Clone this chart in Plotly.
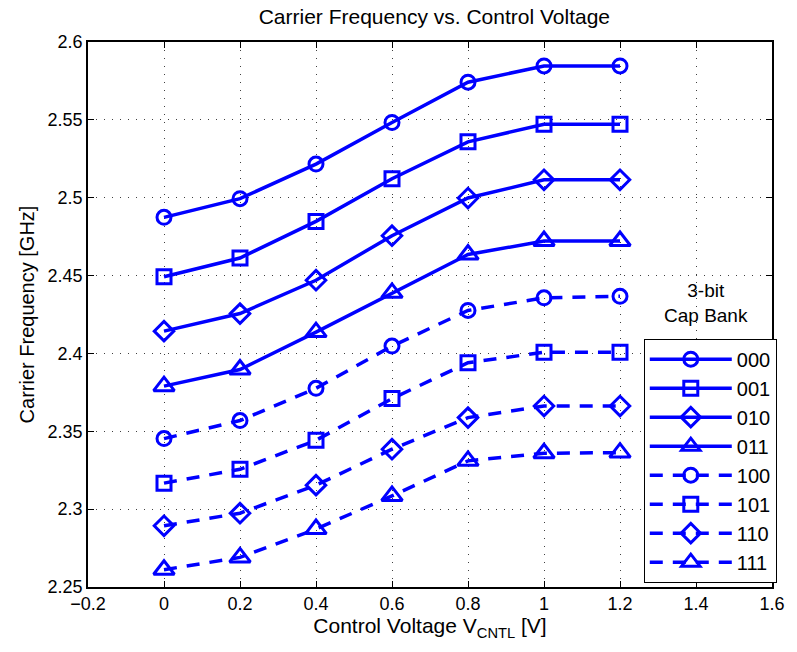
import plotly.graph_objects as go

x_volt = [0, 0.2, 0.4, 0.6, 0.8, 1.0, 1.2]

f_000 = [2.4874, 2.4994, 2.5216, 2.5483, 2.5742, 2.5846, 2.5846]
f_001 = [2.4492, 2.4613, 2.4848, 2.5122, 2.5359, 2.5472, 2.5472]
f_010 = [2.4143, 2.4256, 2.4470, 2.4756, 2.4998, 2.5115, 2.5115]
f_011 = [2.3790, 2.3897, 2.4137, 2.4389, 2.4635, 2.4722, 2.4722]
f_100 = [2.3453, 2.3569, 2.3776, 2.4047, 2.4276, 2.4357, 2.4367]
f_101 = [2.3167, 2.3256, 2.3442, 2.3710, 2.3940, 2.4008, 2.4008]
f_110 = [2.2893, 2.2974, 2.3154, 2.3385, 2.3588, 2.3662, 2.3662]
f_111 = [2.2611, 2.2690, 2.2872, 2.3085, 2.3310, 2.3359, 2.3363]

names = ["000", "001", "010", "011", "100", "101", "110", "111"]
series = [f_000, f_001, f_010, f_011, f_100, f_101, f_110, f_111]
symbols = ["circle-open", "square-open", "diamond-open", "triangle-up-open"] * 2
msizes = [14, 14, 15, 18] * 2
dashes = ["solid"] * 4 + ["13px,10px"] * 4

x_ticks = [-0.2, 0, 0.2, 0.4, 0.6, 0.8, 1.0, 1.2, 1.4, 1.6]
x_ticktext = ["\u22120.2", "0", "0.2", "0.4", "0.6", "0.8", "1", "1.2", "1.4", "1.6"]
y_ticks = [2.25, 2.3, 2.35, 2.4, 2.45, 2.5, 2.55, 2.6]
y_ticktext = ["2.25", "2.3", "2.35", "2.4", "2.45", "2.5", "2.55", "2.6"]

blue = "#0000FF"
font = "Liberation Sans, Arial, sans-serif"

fig = go.Figure()
for nm, ys, sym, ms, dsh in zip(names, series, symbols, msizes, dashes):
    fig.add_trace(go.Scatter(
        x=x_volt, y=ys, name=nm, mode="lines+markers",
        line=dict(color=blue, width=3.5, dash=dsh),
        marker=dict(symbol=sym, size=ms, color=blue, line=dict(color=blue, width=3)),
    ))

axis_common = dict(
    showline=True, linecolor="black", linewidth=1.5, mirror="ticks",
    ticks="inside", ticklen=6, tickcolor="black", tickwidth=1,
    showgrid=True, gridcolor="rgba(0,0,0,0.75)", gridwidth=1, griddash="1px,7px",
    zeroline=False, tickfont=dict(family=font, size=18, color="black"),
)

fig.update_xaxes(range=[-0.2, 1.6], tickvals=x_ticks, ticktext=x_ticktext,
                 title=dict(text="Control Voltage V<sub>CNTL</sub> [V]",
                            font=dict(family=font, size=21, color="black"), standoff=3),
                 **axis_common)
fig.update_yaxes(range=[2.25, 2.6], tickvals=y_ticks, ticktext=y_ticktext,
                 title=dict(text="Carrier Frequency [GHz]",
                            font=dict(family=font, size=20, color="black"), standoff=8),
                 **axis_common)

fig.add_annotation(text="3-bit<br>Cap Bank", xref="paper", yref="paper",
                   x=0.903, y=0.476, xanchor="center", yanchor="bottom",
                   showarrow=False, font=dict(family=font, size=19, color="black"))

fig.update_layout(
    width=797, height=652,
    margin=dict(l=88, r=17, t=42, b=65),
    paper_bgcolor="white", plot_bgcolor="white",
    title=dict(text="Carrier Frequency vs. Control Voltage", x=0.545, xanchor="center",
               y=0.974, yanchor="middle", font=dict(family=font, size=21, color="black")),
    showlegend=True,
    legend=dict(x=1.007, y=0.008, xanchor="right", yanchor="bottom",
                bgcolor="white", bordercolor="black", borderwidth=1,
                font=dict(family=font, size=20, color="black"), itemwidth=82),
)

fig.write_html("out.html", config={"displayModeBar": False},
               post_script="document.body.style.margin='0';")
